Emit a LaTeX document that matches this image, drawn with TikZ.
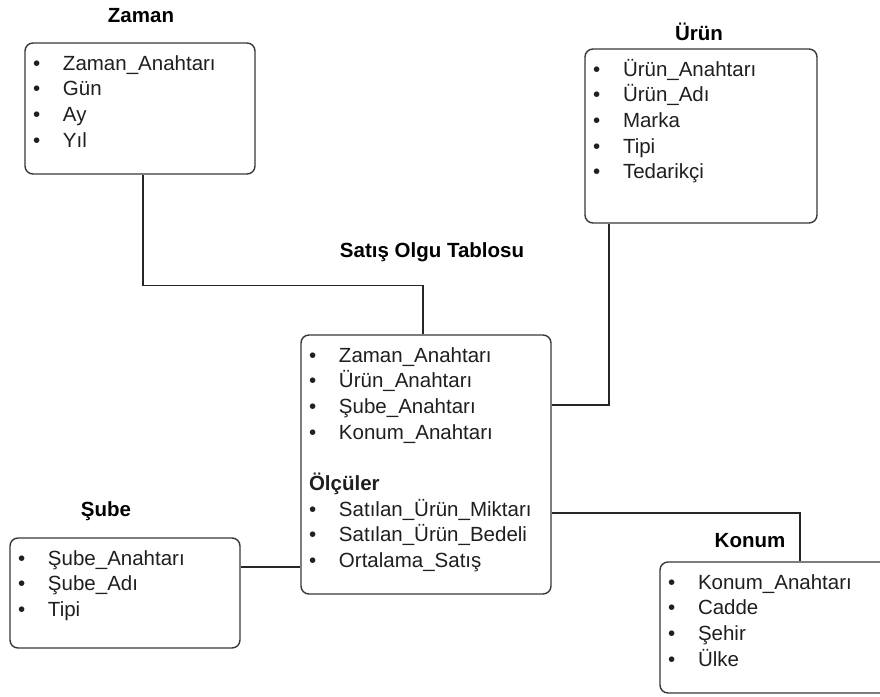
\documentclass[tikz,border=0pt]{standalone}
\usepackage{fontspec}
\setmainfont{Liberation Sans}
\usetikzlibrary{positioning,calc}
\newcommand{\itm}{\makebox[30pt][l]{\textbullet}}

\begin{document}
\begin{tikzpicture}[x=1pt,y=1pt,
 every node/.style={font=\fontsize{20.5}{25.7}\selectfont,text=black!88},
 tbl/.style={draw=black!78,line width=1.4pt,rounded corners=8pt,fill=white,align=left,
  inner xsep=8pt,inner ysep=0pt,text height=27pt},
 head/.style={anchor=base,text=black,font=\fontsize{20.5}{24}\selectfont\bfseries},
 link/.style={line width=1.2pt,draw=black!85}]

\useasboundingbox (0,0) rectangle (880,-696);

\node[head] (zamanhead) at (141,-22) {Zaman};
\node[tbl,text width=214pt,text depth=104pt] (zaman) at (140,-108.5) {\itm Zaman\_Anahtarı\\
 \itm Gün\\
 \itm Ay\\
 \itm Yıl};

\node[head] (urunhead) at (699,-40) {Ürün};
\node[tbl,text width=216pt,text depth=147pt] (urun) at (701,-136) {\itm Ürün\_Anahtarı\\
 \itm Ürün\_Adı\\
 \itm Marka\\
 \itm Tipi\\
 \itm Tedarikçi};

\node[head] (facthead) at (432,-257) {Satış Olgu Tablosu};
\node[tbl,text width=234pt,text depth=232pt] (fact) at (426,-464.5) {\itm Zaman\_Anahtarı\\
 \itm Ürün\_Anahtarı\\
 \itm Şube\_Anahtarı\\
 \itm Konum\_Anahtarı\\[25.7pt]
 \textbf{Ölçüler}\\
 \itm Satılan\_Ürün\_Miktarı\\
 \itm Satılan\_Ürün\_Bedeli\\
 \itm Ortalama\_Satış};

\node[head] (subehead) at (106,-516) {Şube};
\node[tbl,text width=214pt,text depth=83pt] (sube) at (125,-593) {\itm Şube\_Anahtarı\\
 \itm Şube\_Adı\\
 \itm Tipi};

\node[head] (konumhead) at (750,-547) {Konum};
\node[tbl,text width=224pt,text depth=104pt] (konum) at (780,-627.5) {\itm Konum\_Anahtarı\\
 \itm Cadde\\
 \itm Şehir\\
 \itm Ülke};

% links to the fact table
\draw[link] ([xshift=3pt]zaman.south) -- ++(0,-111) -| ([xshift=-3pt]fact.north);
\draw[link] ([xshift=-92pt]urun.south) |- ([yshift=59.5pt]fact.east);
\draw[link] ([yshift=-48.5pt]fact.east) -| ([xshift=20pt]konum.north);
\draw[link] ([yshift=26pt]sube.east) -- ([yshift=-102.5pt]fact.west);
\end{tikzpicture}
\end{document}
